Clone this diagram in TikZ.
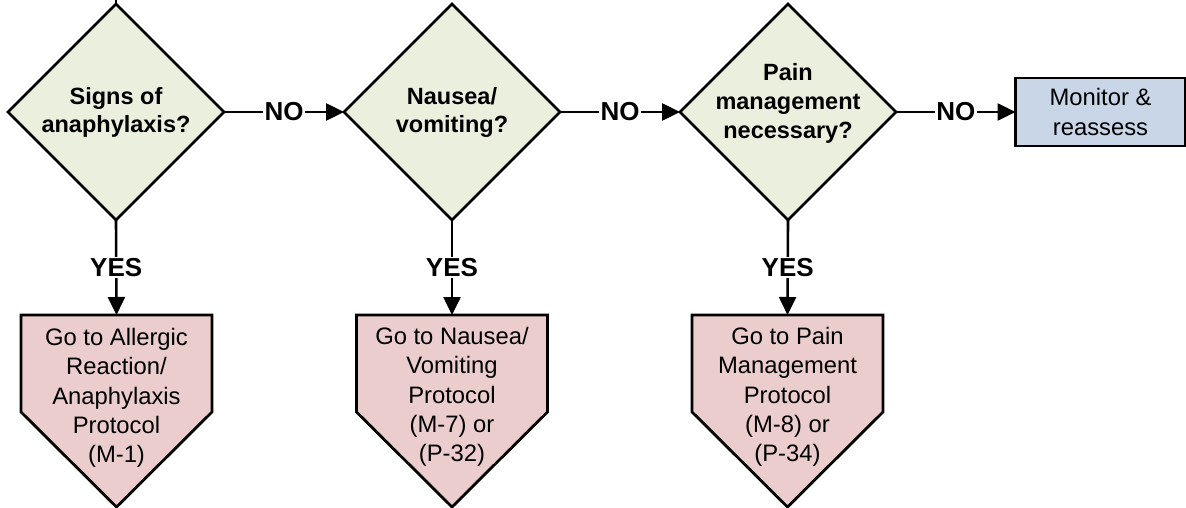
\documentclass[tikz,border=0pt]{standalone}
\usepackage{fontspec}
\setmainfont{Liberation Sans}
\usetikzlibrary{shapes.geometric,arrows.meta,calc}
\definecolor{decfill}{RGB}{235,239,222}
\definecolor{pentfill}{RGB}{236,205,205}
\definecolor{boxfill}{RGB}{201,214,231}
\tikzset{
  dec/.style={diamond, draw=black, line width=2.8pt, fill=decfill, minimum width=216pt, minimum height=216pt, inner sep=0pt, outer sep=0pt, align=center, font=\fontsize{23.5}{28}\selectfont\bfseries},
  dectext/.style={align=center, inner sep=0pt, font=\fontsize{23.5}{29}\selectfont\bfseries},
  penttop/.style={rectangle, minimum width=191pt, minimum height=97pt, inner sep=0pt, outer sep=0pt},
  penttext/.style={align=center, inner sep=0pt, font=\fontsize{23.8}{29.3}\selectfont},
  pentline/.style={draw=black, line width=2.8pt, fill=pentfill, line join=miter},
  endbox/.style={rectangle, draw=black, line width=2.9pt, fill=boxfill, minimum width=170pt, minimum height=68pt, inner sep=0pt, outer sep=0pt, align=center, font=\fontsize{23.8}{29.5}\selectfont},
  arr/.style={draw=black, line width=2.6pt, -{Triangle[length=18pt,width=17pt]}},
  plain/.style={draw=black, line width=2.6pt},
  lbl/.style={fill=white, inner sep=1.5pt, font=\fontsize{26}{28}\selectfont\bfseries}
}
\begin{document}
\begin{tikzpicture}[x=1pt,y=-1pt]
\useasboundingbox (0,0) rectangle (1186,508);
% decisions
\node[dec] (d1) at (116,112) {Signs of\\anaphylaxis?};
\node[dec] (d2) at (452,112) {Nausea/\\vomiting?};
\node[dec] (d3) at (788,112) {};
\node[dectext] (d3t) at (788,103) {Pain\\management\\necessary?};
\node[endbox] (mon) at (1100.5,112) {Monitor \&\\reassess};
% pentagons (rectangular upper part as nodes)
\node[penttop] (p1) at (116.5,363.5) {};
\node[penttop] (p2) at (452,363.5) {};
\node[penttop] (p3) at (787.5,363.5) {};
\foreach \p in {p1,p2,p3}{
  \path[pentline] (\p.north west) -- (\p.north east) -- (\p.south east) -- ($(\p.south)+(0,95)$) -- (\p.south west) -- cycle;
}
\node[penttext] (p1t) at (116.5,398) {Go to Allergic\\Reaction/\\Anaphylaxis\\Protocol\\(M-1)};
\node[penttext] (p2t) at (452,397) {Go to Nausea/\\Vomiting\\Protocol\\(M-7) or\\(P-32)};
\node[penttext] (p3t) at (787.5,397) {Go to Pain\\Management\\Protocol\\(M-8) or\\(P-34)};
% incoming line at top
\coordinate (topin) at (116,0);
\draw[plain] (topin) -- (d1.north);
% NO connectors
\draw[arr] (d1.east) -- node[lbl]{NO} (d2.west);
\draw[arr] (d2.east) -- node[lbl]{NO} (d3.west);
\draw[arr] (d3.east) -- node[lbl]{NO} (mon.west);
% YES connectors
\draw[arr] (d1.south) -- node[lbl]{YES} (p1.north);
\draw[arr] (d2.south) -- node[lbl]{YES} (p2.north);
\draw[arr] (d3.south) -- node[lbl]{YES} (p3.north);
\end{tikzpicture}
\end{document}
